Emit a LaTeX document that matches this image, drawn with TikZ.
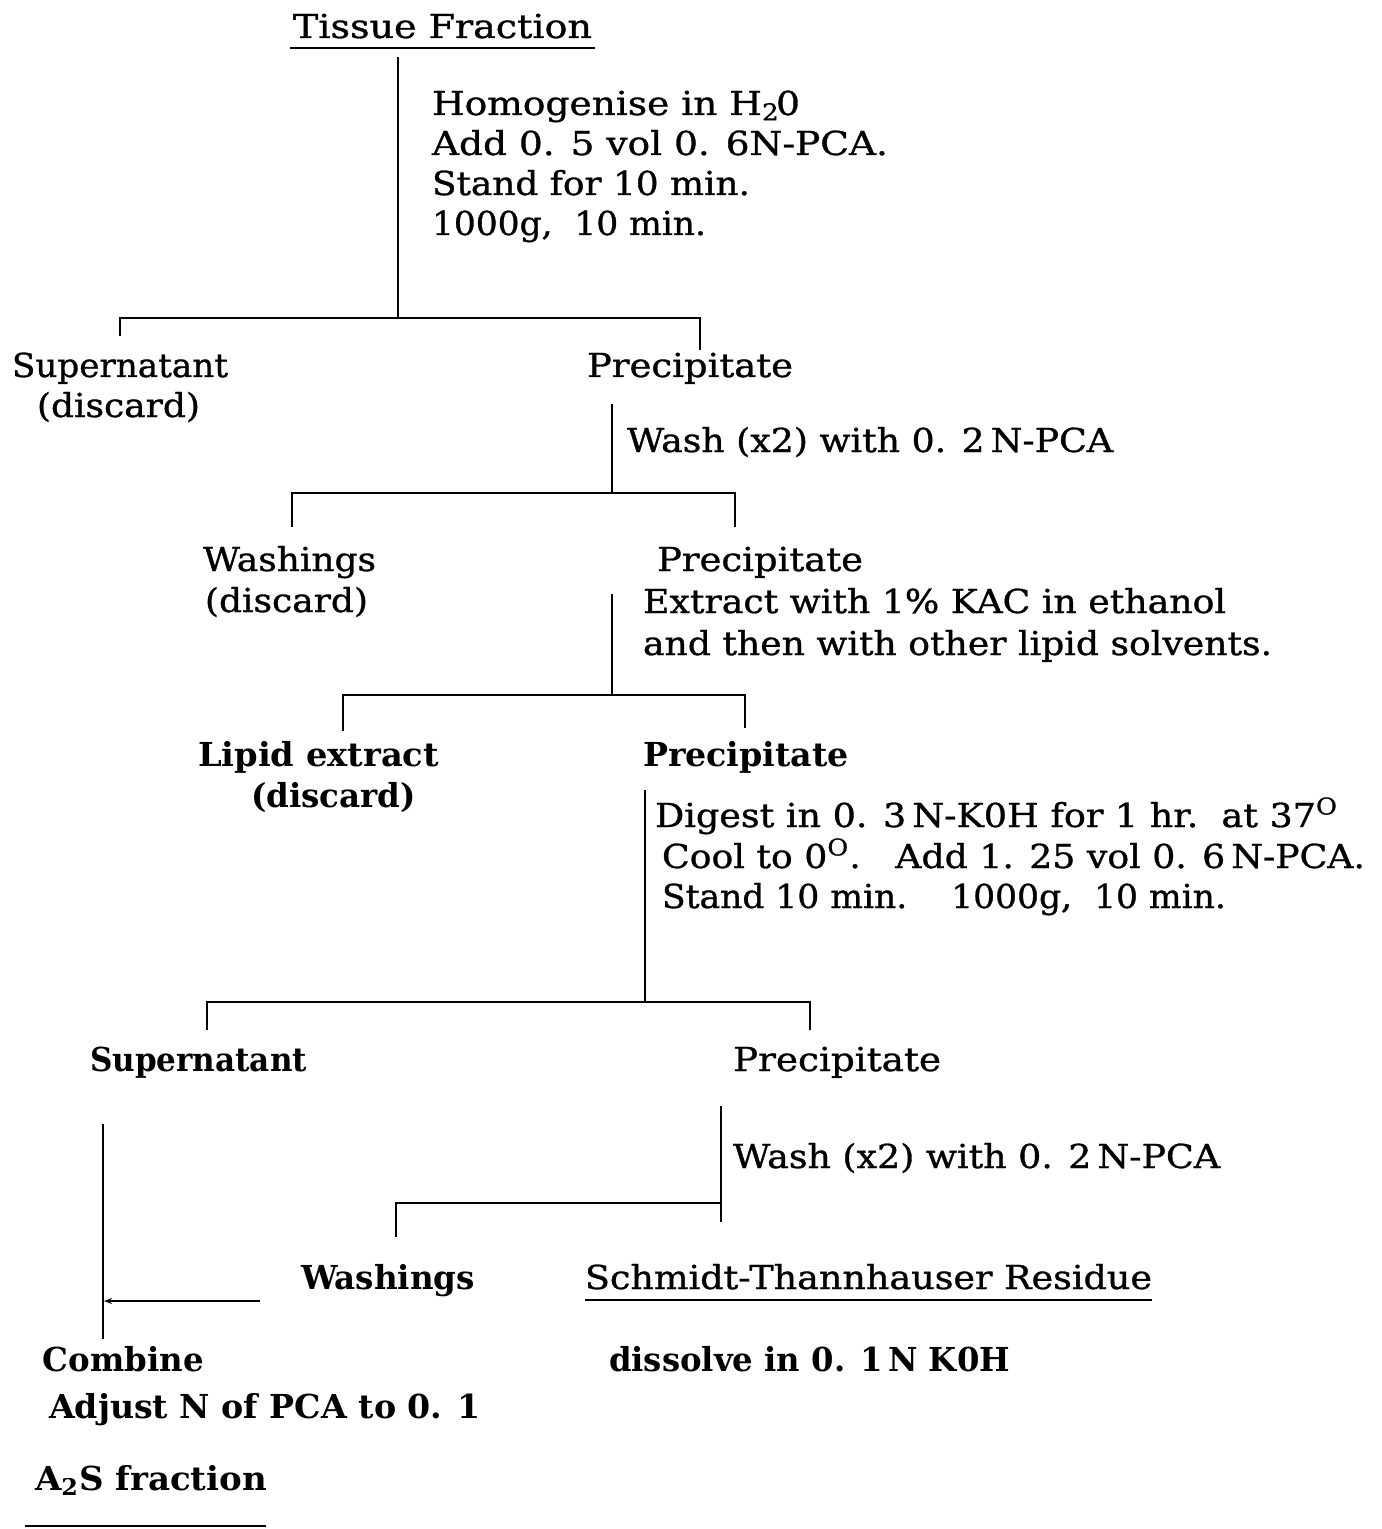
\documentclass[tikz,border=0pt]{standalone}
\usepackage{fontspec}
\setmainfont{DejaVu Serif}[FakeBold=0.9]
\newfontfamily\boldfam{DejaVu Serif Bold}
\usepackage{graphicx}
\usetikzlibrary{arrows.meta,calc}
\newdimen\pxu \pxu=0.5pt
\newcommand{\fw}[2]{\resizebox{#1\pxu}{\height}{#2}}
\tikzset{
  lbl/.style={anchor=base west, inner sep=0pt, outer sep=0pt, font=\fontsize{16.5}{20}\selectfont},
  bl/.style={lbl, font=\fontsize{16.5}{20}\selectfont\boldfam},
  ln/.style={line width=1pt, line cap=butt},
}
\begin{document}
\begin{tikzpicture}[x=0.5pt,y=-0.5pt]
\useasboundingbox (0,0) rectangle (1381,1529);
\fill[white] (0,0) rectangle (1381,1529);

% ---- texts ----
\node[lbl] (tf) at (293,38) {\fw{299}{Tissue Fraction}};
\node[lbl] (s1a) at (432,115) {\fw{368}{Homogenise in H\textsubscript{2}\kern-0.1em 0}};
\node[lbl] (s1b) at (432,155) {\fw{456}{Add 0. 5 vol 0. 6N-PCA.}};
\node[lbl] (s1c) at (432,195) {\fw{318}{Stand for 10 min.}};
\node[lbl] (s1d) at (432,235) {\fw{274}{1000g,~~10 min.}};

\node[lbl] (sup1) at (12,377) {\fw{216}{Supernatant}};
\node[lbl] (sup1d) at (37,417) {\fw{163}{(discard)}};
\node[lbl] (pre1) at (587,377) {\fw{206}{Precipitate}};
\node[lbl] (w1) at (627,452) {\fw{486}{Wash (x2) with 0. 2\,N-PCA}};

\node[lbl] (wa1) at (203,571) {\fw{173}{Washings}};
\node[lbl] (wa1d) at (205,612) {\fw{163}{(discard)}};
\node[lbl] (pre2) at (657,571) {\fw{206}{Precipitate}};
\node[lbl] (ex1) at (643,613) {\fw{583}{Extract with 1\% KAC in ethanol}};
\node[lbl] (ex2) at (643,655) {\fw{629}{and then with other lipid solvents.}};

\node[bl] (lip) at (198,766) {\fw{241}{Lipid extract}};
\node[bl] (lipd) at (251,807) {\fw{165}{(discard)}};
\node[bl] (pre3) at (643,766) {\fw{206}{Precipitate}};
\node[lbl] (dg1) at (655,827) {\fw{683}{Digest in 0. 3\,N-K0H for 1 hr.~~at 37\textsuperscript{O}}};
\node[lbl] (dg2) at (662,868) {\fw{703}{Cool to 0\textsuperscript{O}.~~~Add 1. 25 vol 0. 6\,N-PCA.}};
\node[lbl] (dg3) at (662,908) {\fw{564}{Stand 10 min.~~~~1000g,~~10 min.}};

\node[bl] (sup2) at (90,1071) {\fw{217}{Supernatant}};
\node[lbl] (pre4) at (733,1071) {\fw{208}{Precipitate}};
\node[lbl] (w2) at (733,1168) {\fw{487}{Wash (x2) with 0. 2\,N-PCA}};

\node[bl] (wa2) at (301,1289) {\fw{174}{Washings}};
\node[lbl] (str) at (585,1289) {\fw{567}{Schmidt-Thannhauser Residue}};
\node[bl] (dis) at (609,1371) {\fw{401}{dissolve in 0. 1\,N K0H}};

\node[bl] (comb) at (43,1371) {\fw{161}{Combine}};
\node[bl] (adj) at (49,1418) {\fw{432}{Adjust N of PCA to 0. 1}};
\node[bl] (a2s) at (35,1490) {\fw{232}{A\textsubscript{2}S fraction}};

% ---- underlines ----
\coordinate (u1a) at (290,48); \coordinate (u1b) at (595,48);
\draw[ln] (u1a) -- (u1b);
\coordinate (u2a) at (585,1300); \coordinate (u2b) at (1152,1300);
\draw[ln] (u2a) -- (u2b);
\coordinate (u3a) at (25,1526); \coordinate (u3b) at (266,1526);
\draw[ln] (u3a) -- (u3b);

% ---- step 1 ----
\coordinate (v1t) at (398,57); \coordinate (v1b) at (398,318);
\coordinate (b1l) at (120,336); \coordinate (b1lt) at (120,318);
\coordinate (b1r) at (700,350); \coordinate (b1rt) at (700,318);
\draw[ln] (v1t) -- (v1b);
\draw[ln] (b1l) -- (b1lt) -- (b1rt) -- (b1r);

% ---- step 2 ----
\coordinate (v2t) at (612,404); \coordinate (v2b) at (612,493);
\coordinate (b2l) at (292,527); \coordinate (b2lt) at (292,493);
\coordinate (b2r) at (735,527); \coordinate (b2rt) at (735,493);
\draw[ln] (v2t) -- (v2b);
\draw[ln] (b2l) -- (b2lt) -- (b2rt) -- (b2r);

% ---- step 3 ----
\coordinate (v3t) at (612,594); \coordinate (v3b) at (612,695);
\coordinate (b3l) at (343,731); \coordinate (b3lt) at (343,695);
\coordinate (b3r) at (745,728); \coordinate (b3rt) at (745,695);
\draw[ln] (v3t) -- (v3b);
\draw[ln] (b3l) -- (b3lt) -- (b3rt) -- (b3r);

% ---- step 4 ----
\coordinate (v4t) at (645,790); \coordinate (v4b) at (645,1002);
\coordinate (b4l) at (207,1030); \coordinate (b4lt) at (207,1002);
\coordinate (b4r) at (810,1030); \coordinate (b4rt) at (810,1002);
\draw[ln] (v4t) -- (v4b);
\draw[ln] (b4l) -- (b4lt) -- (b4rt) -- (b4r);

% ---- step 5 ----
\coordinate (v5t) at (721,1106); \coordinate (v5b) at (721,1222);
\coordinate (b5l) at (396,1237); \coordinate (b5lt) at (396,1203);
\coordinate (b5r) at (721,1203);
\draw[ln] (v5t) -- (v5b);
\draw[ln] (b5l) -- (b5lt) -- (b5r);

% ---- supernatant line and combine arrow ----
\coordinate (v6t) at (103,1124); \coordinate (v6b) at (103,1339);
\draw[ln] (v6t) -- (v6b);
\coordinate (arS) at (260,1301); \coordinate (arE) at (104,1301);
\draw[ln, -{Stealth[length=4pt,width=3pt]}] (arS) -- (arE);

\end{tikzpicture}
\end{document}
